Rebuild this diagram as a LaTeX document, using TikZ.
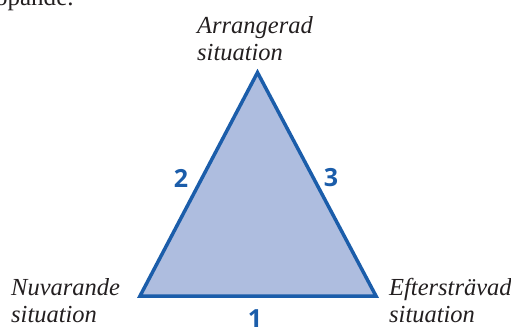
\documentclass[tikz,border=0pt]{standalone}
\usepackage{fontspec}
\setmainfont{Liberation Serif}
\newfontfamily\numfont{Open Sans}
\definecolor{triblue}{HTML}{1B5DAA}
\definecolor{trifill}{HTML}{AEBDDF}
\definecolor{txtgray}{HTML}{231F20}
\begin{document}
\begin{tikzpicture}[x=1pt,y=-1pt,
  lbl/.style={anchor=base west,inner sep=0pt,align=left,text=txtgray,
    font=\itshape\fontsize{24.5}{27}\selectfont},
  num/.style={text=triblue,inner sep=0pt,font=\numfont\bfseries\fontsize{25}{25}\selectfont}]
\useasboundingbox (0,0) rectangle (511,327);
\clip (0,0) rectangle (511,327);
\node[anchor=base west,inner sep=0pt,text=txtgray,font=\fontsize{25}{26}\selectfont] (prev) at (-12,5) {löpande.};
\coordinate (T) at (257.5,72.5);
\coordinate (L) at (140,296);
\coordinate (R) at (376,296);
\filldraw[fill=trifill,draw=triblue,line width=3.5pt,line join=miter] (T) -- (L) -- (R) -- cycle;
\node[lbl] (top) at (197,60) {Arrangerad\\situation};
\node[lbl] (left) at (11,322) {Nuvarande\\situation};
\node[lbl] (right) at (389,322) {Eftersträvad\\situation};
\node[num] (n2) at (181,178) {2};
\node[num] (n3) at (331,178) {3};
\node[num] (n1) at (255,319) {1};
\end{tikzpicture}
\end{document}
